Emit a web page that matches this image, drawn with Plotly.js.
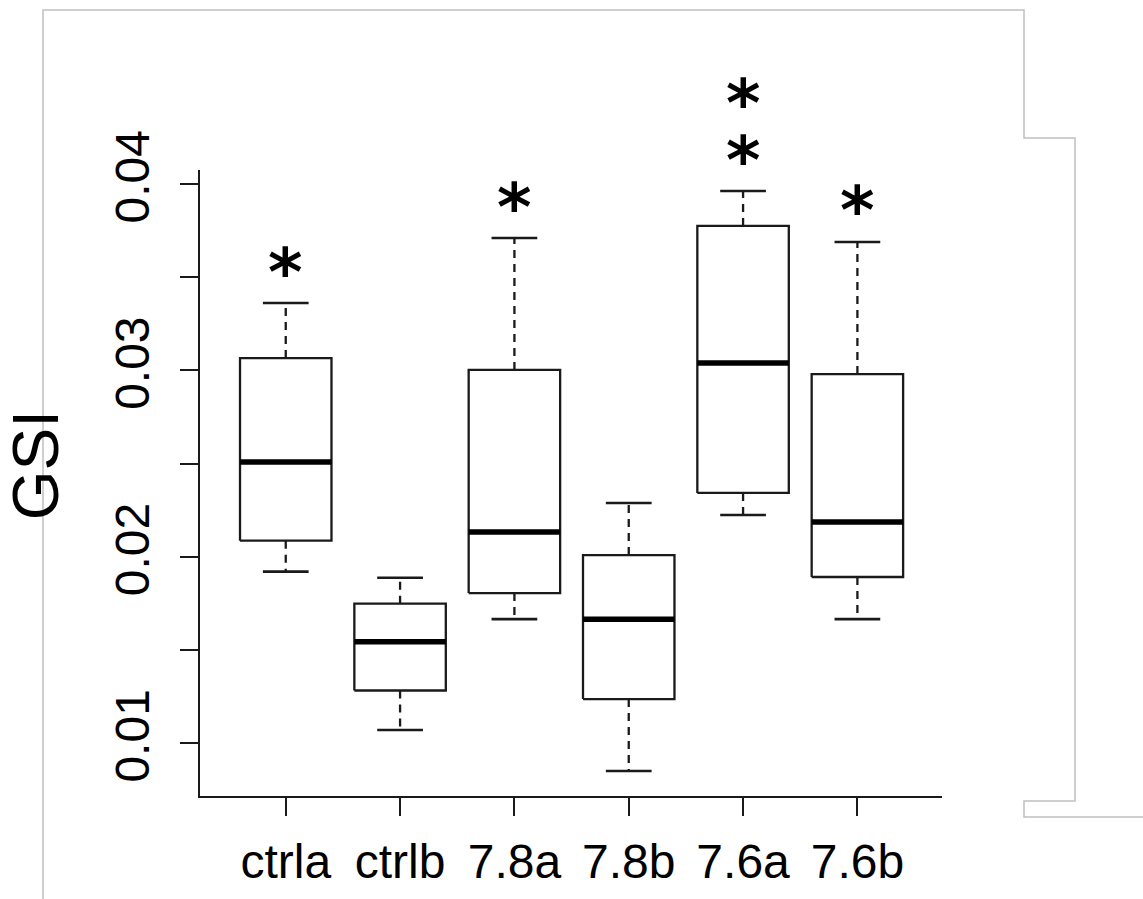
<!DOCTYPE html>
<html>
<head>
<meta charset="utf-8">
<script src="https://cdn.plot.ly/plotly-3.0.1.min.js"></script>
<style>html,body{margin:0;padding:0;background:#fff;}#chart{width:1143px;height:899px;}</style>
</head>
<body>
<div id="chart"></div>
<script>
// ---- data ----
const categories = ['ctrla', 'ctrlb', '7.8a', '7.8b', '7.6a', '7.6b'];
const lowerWhisker = [0.0192, 0.0107, 0.01665, 0.0085, 0.02224, 0.01665];
const q1 = [0.02086, 0.01282, 0.01805, 0.01236, 0.02342, 0.01891];
const median = [0.02508, 0.01544, 0.02132, 0.01665, 0.03039, 0.02186];
const q3 = [0.03066, 0.01748, 0.03002, 0.02009, 0.03775, 0.0298];
const upperWhisker = [0.03361, 0.01887, 0.0371, 0.02288, 0.03962, 0.03689];
const significanceStars = [1, 0, 1, 0, 2, 1];
const yTickValues = [0.01, 0.015, 0.02, 0.025, 0.03, 0.035, 0.04];
const yTickLabels = ['0.01', '', '0.02', '', '0.03', '', '0.04'];

// ---- geometry / style ----
const W = 1143, H = 899;
const M = {l: 200, r: 201, t: 170, b: 103};
const pw = W - M.l - M.r, ph = H - M.t - M.b;
const BOX_HALF = 0.4, CAP_HALF = 0.2;
const INK = '#1a1a1a';
const FONT = 'Liberation Sans, Arial, sans-serif';
const STAR_FONT = 'DejaVu Sans, sans-serif';

const pos = categories.map((_, i) => i + 1);

function seg(list) {
  const xs = [], ys = [];
  list.forEach(s => { xs.push(s[0], s[2], null); ys.push(s[1], s[3], null); });
  return {x: xs, y: ys};
}

const boxPts = {x: [], y: []};
pos.forEach((p, i) => {
  boxPts.x.push(p - BOX_HALF, p + BOX_HALF, p + BOX_HALF, p - BOX_HALF, p - BOX_HALF, null);
  boxPts.y.push(q1[i], q1[i], q3[i], q3[i], q1[i], null);
});
const medPts = seg(pos.map((p, i) => [p - BOX_HALF, median[i], p + BOX_HALF, median[i]]));
const whiskPts = seg(pos.flatMap((p, i) => [[p, q3[i], p, upperWhisker[i]], [p, q1[i], p, lowerWhisker[i]]]));
const capPts = seg(pos.flatMap((p, i) => [[p - CAP_HALF, upperWhisker[i], p + CAP_HALF, upperWhisker[i]],
                                         [p - CAP_HALF, lowerWhisker[i], p + CAP_HALF, lowerWhisker[i]]]));

const common = {type: 'scatter', mode: 'lines', hoverinfo: 'skip', showlegend: false, cliponaxis: false};
const traces = [
  Object.assign({}, common, {x: whiskPts.x, y: whiskPts.y, line: {color: INK, width: 2.3, dash: '8px,6px'}}),
  Object.assign({}, common, {x: capPts.x, y: capPts.y, line: {color: INK, width: 2.6}}),
  Object.assign({}, common, {x: boxPts.x, y: boxPts.y, line: {color: INK, width: 2.3}}),
  Object.assign({}, common, {x: medPts.x, y: medPts.y, line: {color: '#000', width: 5.5}})
];

const annotations = [];
pos.forEach((p, i) => {
  for (let k = 0; k < significanceStars[i]; k++) {
    annotations.push({
      x: p, y: upperWhisker[i], xref: 'x', yref: 'y', text: '*', showarrow: false,
      xanchor: 'center', yanchor: 'middle', yshift: 31 + k * 57,
      font: {family: STAR_FONT, size: 66, color: '#000', weight: 'bold'}
    });
  }
});

// gray frame lines (pixel -> paper)
const px = v => (v - M.l) / pw;
const py = v => (H - M.b - v) / ph;
const frame = [[43, 899], [43, 10], [1024, 10], [1024, 138], [1075, 138], [1075, 801], [1024, 801], [1024, 817], [1143, 817]];
const framePath = frame.map((p, i) => (i ? 'L' : 'M') + px(p[0]) + ',' + py(p[1])).join(' ');

const layout = {
  width: W, height: H, margin: M,
  paper_bgcolor: '#fff', plot_bgcolor: '#fff',
  font: {family: FONT, color: '#000'},
  xaxis: {
    range: [0.25, 6.74], tickvals: pos, ticktext: categories,
    ticks: 'outside', ticklen: 18, tickwidth: 2, tickcolor: INK,
    showline: true, linewidth: 2.2, linecolor: INK, showgrid: false, zeroline: false,
    tickfont: {family: FONT, size: 48, color: '#000'}, ticklabelstandoff: 4
  },
  yaxis: {
    range: [0.00716, 0.04075], tickvals: yTickValues, ticktext: yTickLabels, tickangle: -90,
    ticks: 'outside', ticklen: 18, tickwidth: 2, tickcolor: INK,
    showline: true, linewidth: 2.2, linecolor: INK, showgrid: false, zeroline: false,
    tickfont: {family: FONT, size: 48, color: '#000'}, ticklabelstandoff: 12,
    title: {text: '&nbsp;&nbsp;GSI', font: {family: FONT, size: 64, color: '#000'}, standoff: 52}
  },
  annotations: annotations,
  shapes: [{type: 'path', xref: 'paper', yref: 'paper', path: framePath, line: {color: '#c0c0c0', width: 1.5}, layer: 'below'}]
};

Plotly.newPlot('chart', traces, layout, {staticPlot: true, displayModeBar: false});
</script>
</body>
</html>
